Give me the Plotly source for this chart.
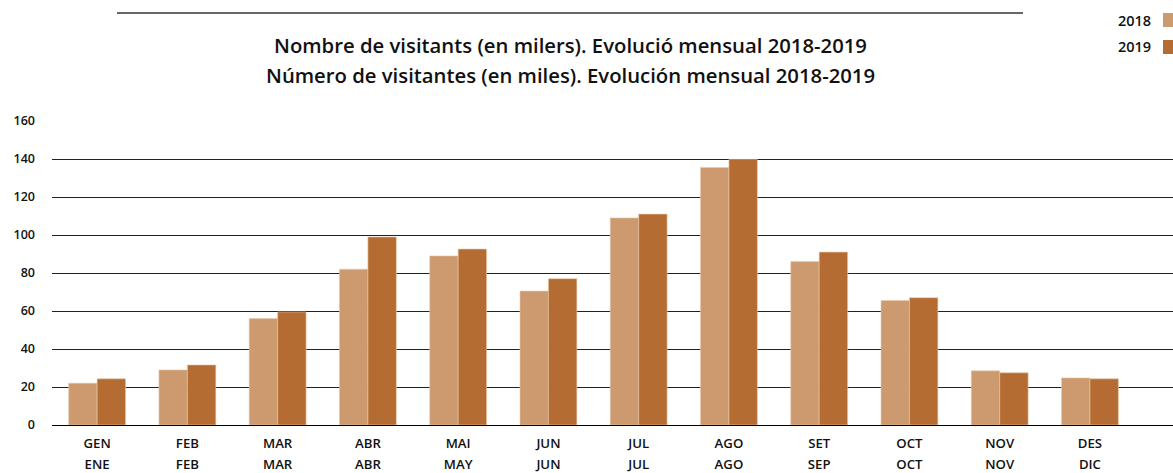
import plotly.graph_objects as go

months_ca = ["GEN", "FEB", "MAR", "ABR", "MAI", "JUN", "JUL", "AGO", "SET", "OCT", "NOV", "DES"]
months_es = ["ENE", "FEB", "MAR", "ABR", "MAY", "JUN", "JUL", "AGO", "SEP", "OCT", "NOV", "DIC"]
visitors_2018 = [22, 29, 56, 82, 89, 70.5, 109, 135.5, 86, 65.5, 28.5, 24.8]
visitors_2019 = [24.3, 31.6, 59.5, 99, 92.6, 77, 111, 139.8, 91, 67, 27.5, 24.3]
series_names = ["2018", "2019"]
colors = ["#CC9A6E", "#B56C32"]
yticks = [0, 20, 40, 60, 80, 100, 120, 140, 160]
title_ca = "Nombre de visitants (en milers). Evolució mensual 2018-2019"
title_es = "Número de visitantes (en miles). Evolución mensual 2018-2019"

FONT = "Open Sans"
idx = list(range(len(months_ca)))
XRANGE = [-0.5, 11.92]
xtickfont = dict(family=FONT, size=13.2, weight=600, color="#111")
ytickfont = dict(family=FONT, size=12.5, weight=600, color="#111")

fig = go.Figure()
for name, vals, col in zip(series_names, [visitors_2018, visitors_2019], colors):
    fig.add_trace(go.Bar(x=idx, y=vals, name=name,
                         marker=dict(color=col, line=dict(width=0.6, color="#E8C9AA")),
                         showlegend=False))

fig.update_layout(
    width=1173, height=473,
    margin=dict(l=52, r=0, t=121, b=48, autoexpand=False),
    paper_bgcolor="white", plot_bgcolor="white",
    barmode="group", bargap=0.37, bargroupgap=0,
    font=dict(family=FONT, color="#111", size=13),
    xaxis=dict(tickmode="array", tickvals=idx, ticktext=months_ca, range=XRANGE,
               showgrid=False, showline=False, zeroline=False, ticks="",
               tickfont=xtickfont, automargin=False, ticklabelstandoff=9, fixedrange=True),
    xaxis2=dict(tickmode="array", tickvals=idx, ticktext=months_es, range=XRANGE,
                overlaying="x", side="bottom", anchor="y",
                showgrid=False, showline=False, zeroline=False, ticks="",
                tickfont=xtickfont, automargin=False, ticklabelstandoff=30, fixedrange=True),
    yaxis=dict(range=[0, 160], tickmode="array", tickvals=yticks, showgrid=True,
               gridcolor="#222", gridwidth=1, zeroline=True, zerolinecolor="#000", zerolinewidth=1.3,
               showline=False, ticks="", tickfont=ytickfont,
               automargin=False, ticklabelstandoff=16, fixedrange=True),
)
# invisible helper trace so the second tick row is rendered
fig.add_trace(go.Bar(x=idx, y=[None] * len(idx), xaxis="x2", showlegend=False, hoverinfo="skip"))

# Titles
for txt, ypx in [(title_ca, 45), (title_es, 75)]:
    fig.add_annotation(text=txt, xref="paper", yref="paper",
                       x=(570 - 52) / 1121, y=(425 - ypx) / 304, xanchor="center", yanchor="middle",
                       showarrow=False, font=dict(family=FONT, size=20.3, weight=600, color="#111"))

# Decorative line above title
fig.add_shape(type="line", xref="paper", yref="paper",
              x0=(117 - 52) / 1121, x1=(1023 - 52) / 1121, y0=(425 - 13) / 304, y1=(425 - 13) / 304,
              line=dict(color="#333", width=1.3))

# Legend (text left, swatch right)
for name, col, ypx in zip(series_names, colors, [20, 47]):
    fig.add_annotation(text=name, xref="paper", yref="paper",
                       x=(1153 - 52) / 1121, y=(425 - ypx) / 304, xanchor="right", yanchor="middle",
                       showarrow=False, font=dict(family=FONT, size=14.5, weight=600, color="#111"))
    fig.add_shape(type="rect", xref="paper", yref="paper",
                  x0=(1163 - 52) / 1121, x1=(1177 - 52) / 1121,
                  y0=(425 - ypx - 7) / 304, y1=(425 - ypx + 7) / 304,
                  fillcolor=col, line=dict(width=0))

fig.write_html("out.html", config={"displayModeBar": False, "staticPlot": False},
               post_script="document.body.style.margin='0';document.body.style.padding='0';")
